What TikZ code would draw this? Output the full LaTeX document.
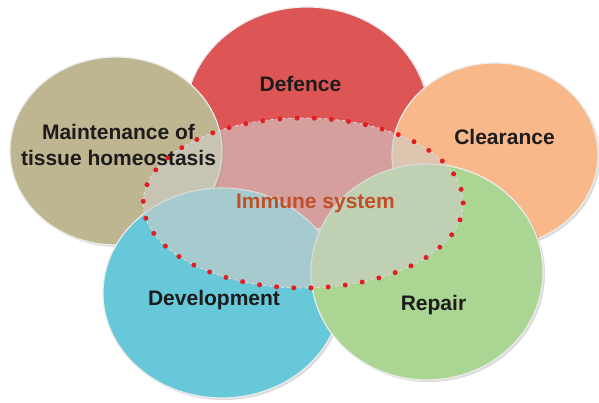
\documentclass[tikz,border=0pt]{standalone}
\usepackage{fontspec}
\setmainfont{Liberation Sans}
\usetikzlibrary{shapes.geometric}
\definecolor{ctan}{RGB}{190,181,145}
\definecolor{cred}{RGB}{222,85,85}
\definecolor{corange}{RGB}{248,184,138}
\definecolor{ccyan}{RGB}{102,200,216}
\definecolor{cgreen}{RGB}{170,213,147}
\definecolor{cveil}{RGB}{206,206,200}
\definecolor{cdot}{RGB}{228,28,36}
\definecolor{crust}{RGB}{192,80,42}
\definecolor{ctext}{RGB}{30,27,28}
\tikzset{
  blob/.style={ellipse, inner sep=0pt, draw=white!85!gray, line width=1.2pt},
  shadowblob/.style={ellipse, inner sep=0pt, fill=black, opacity=0.14},
  lbl/.style={font=\fontsize{21}{26}\selectfont\bfseries, text=ctext, align=center, inner sep=0pt},
  veil/.style={ellipse, inner sep=0pt, fill=cveil, fill opacity=0.62},
  dotline/.style={draw=cdot, line width=5pt, line cap=round, dash pattern=on 0pt off 17.2pt},
}
\begin{document}
\begin{tikzpicture}[x=1pt,y=-1pt]
\useasboundingbox[fill=white] (0,0) rectangle (599,403);
% Defence
\node[shadowblob, minimum width=244pt, minimum height=222pt] (defS) at (309,120) {};
\node[blob, fill=cred, minimum width=244pt, minimum height=222pt] (def) at (307,118) {};
% Maintenance
\node[shadowblob, minimum width=212pt, minimum height=188pt] (maiS) at (118,153) {};
\node[blob, fill=ctan, minimum width=212pt, minimum height=188pt] (mai) at (116,151) {};
% Clearance
\node[shadowblob, minimum width=206pt, minimum height=184pt] (clrS) at (497,157) {};
\node[blob, fill=corange, minimum width=206pt, minimum height=184pt] (clr) at (495,155) {};
% Development
\node[shadowblob, minimum width=238pt, minimum height=210pt] (devS) at (224,295) {};
\node[blob, fill=ccyan, minimum width=238pt, minimum height=210pt] (dev) at (222,293) {};
% Repair
\node[shadowblob, minimum width=232pt, minimum height=216pt] (repS) at (429,274) {};
\node[blob, fill=cgreen, minimum width=232pt, minimum height=216pt] (rep) at (427,272) {};
% Immune system veil
\node[veil, minimum width=320pt, minimum height=170pt] (imm) at (303,203) {};
\draw[white!75!gray, line width=0.8pt, dashed] (imm.east) arc[start angle=0, end angle=360, x radius=160, y radius=85];
\draw[dotline] (imm.east) arc[start angle=0, end angle=360, x radius=160, y radius=85];
% Labels
\node[lbl] (tdef) at (300.5,84) {Defence};
\node[lbl] (tmai) at (118.5,145) {Maintenance of\\tissue homeostasis};
\node[lbl] (tclr) at (504.5,137) {Clearance};
\node[lbl, text=crust] (timm) at (315.5,203) {Immune system};
\node[lbl] (tdev) at (214,300) {Development};
\node[lbl] (trep) at (433.5,305) {Repair};
\end{tikzpicture}
\end{document}
